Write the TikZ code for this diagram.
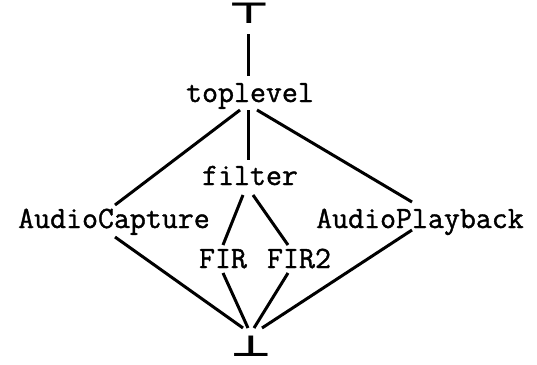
\documentclass[tikz,border=0pt]{standalone}
\usepackage{fontspec}
\usepackage{graphicx}
\newfontfamily\courfont{Latin Modern Mono}[FakeBold=1.2]
\newfontfamily\symfont{DejaVu Sans Bold}
\usetikzlibrary{calc}
\begin{document}
\begin{tikzpicture}[x=1pt,y=-1pt,
  lbl/.style={anchor=base, inner sep=0pt, outer sep=0pt,
    font=\courfont\fontsize{31}{33}\selectfont, text height=18pt, text depth=6pt},
  sym/.style={anchor=base, inner sep=0pt, outer sep=0pt, font=\symfont\fontsize{29}{31}\selectfont},
  edge/.style={line width=3pt}]
\useasboundingbox (0,0) rectangle (537,364);
\node[sym] (top) at (249,23) {\scalebox{1.55}[1]{⊤}};
\node[sym] (bot) at (251,356) {\scalebox{1.55}[1]{⊥}};
\node[lbl] (toplevel) at (250,102) {toplevel};
\node[lbl] (filter) at (250,185) {filter};
\node[lbl] (FIR) at (223,268) {FIR};
\node[lbl] (FIRtwo) at (299,268) {FIR2};
\node[lbl] (cap) at (114,228) {AudioCapture};
\node[lbl] (play) at (420,228) {AudioPlayback};
\draw[edge] ($(top.base)+(-1,11)$) -- ($(toplevel.north)+(-2,-8)$);
\draw[edge] ($(toplevel.south)+(-10,2)$) -- ($(cap.north)+(1,-5)$);
\draw[edge] ($(toplevel.south)+(-2,2)$) -- ($(filter.north)+(-2,-7)$);
\draw[edge] ($(toplevel.south)+(7,2)$) -- ($(play.north)+(-8,-8)$);
\draw[edge] ($(filter.south)+(-7,4)$) -- ($(FIR.north)+(0,-5)$);
\draw[edge] ($(filter.south)+(3,4)$) -- ($(FIRtwo.north)+(-11,-5)$);
\draw[edge] ($(FIR.south)+(0,-1)$) -- ($(bot.base)+(-3,-28)$);
\draw[edge] ($(FIRtwo.south)+(-11,-1)$) -- ($(bot.base)+(3,-28)$);
\draw[edge] ($(cap.south)+(1,3)$) -- ($(bot.base)+(-8,-28)$);
\draw[edge] ($(play.south)+(-8,-4)$) -- ($(bot.base)+(11,-28)$);
\end{tikzpicture}
\end{document}
